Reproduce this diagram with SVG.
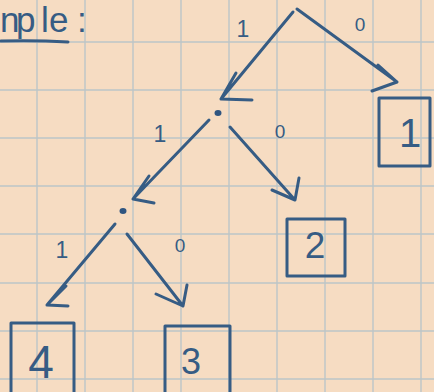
<svg xmlns="http://www.w3.org/2000/svg" width="434" height="392" viewBox="0 0 434 392">
<style>
.grid{stroke:#bcc5c8;stroke-width:1.4;fill:none}
.ink{stroke:#365c84;stroke-width:3;fill:none;stroke-linecap:round;stroke-linejoin:round}
.box{stroke:#365c84;stroke-width:3;fill:none;stroke-linejoin:round}
.dot{fill:#2f5580}
.lbl{font-family:"Liberation Sans","DejaVu Sans",sans-serif;fill:#365c84;text-anchor:middle}
</style>
<rect x="0" y="0" width="434" height="392" fill="#f6dcc2"/>
<g id="grid">
<path class="grid" d="M37 0V392M85 0V392M133 0V392M181 0V392M229 0V392M277 0V392M325 0V392M373 0V392M421 0V392"/>
<path class="grid" d="M0 42H434M0 90H434M0 138H434M0 186H434M0 234H434M0 283H434M0 331H434M0 379H434"/>
</g>
<g id="title">
<text class="lbl" style="text-anchor:start;font-size:35px" x="0 16 41 49 77" y="32">nple:</text>
<path class="ink" d="M1 41 Q35 40 68 42"/>
</g>
<g id="connectors">
<path class="ink" d="M293 12 L221 99 M252 100 L221 99 L236 73"/>
<path class="ink" d="M297 9 L397 82 M378 65 L397 82 L372 91"/>
<path class="ink" d="M209 120 L133 199 M154 203 L133 199 L149 176"/>
<path class="ink" d="M230 127 L295 200 M272 190 L295 200 L299 178"/>
<path class="ink" d="M115 224 L47 305 M68 306 L47 305 L66 286"/>
<path class="ink" d="M127 234 L183 306 M156 294 L183 306 L187 285"/>
<text class="lbl" style="font-size:23px" x="243" y="37">1</text>
<text class="lbl" style="font-size:19px" x="360" y="31">0</text>
<text class="lbl" style="font-size:23px" x="160" y="142">1</text>
<text class="lbl" style="font-size:19px" x="280" y="138">0</text>
<text class="lbl" style="font-size:23px" x="62" y="258">1</text>
<text class="lbl" style="font-size:19px" x="180" y="252">0</text>
</g>
<g id="n1"><ellipse class="dot" cx="218" cy="113" rx="3.5" ry="3"/></g>
<g id="n2"><ellipse class="dot" cx="123" cy="211" rx="3.5" ry="3"/></g>
<g id="leaf1">
<rect class="box" x="379" y="98" width="51" height="68"/>
<text class="lbl" style="font-size:40px" x="410" y="147">1</text>
</g>
<g id="leaf2">
<rect class="box" x="287" y="219" width="58" height="57"/>
<text class="lbl" style="font-size:37px" x="315" y="258">2</text>
</g>
<g id="leaf4">
<rect class="box" x="11" y="323" width="63" height="75"/>
<text class="lbl" style="font-size:46px" x="41" y="378">4</text>
</g>
<g id="leaf3">
<rect class="box" x="165" y="326" width="65" height="75"/>
<text class="lbl" style="font-size:36px" x="191" y="374">3</text>
</g>
</svg>
